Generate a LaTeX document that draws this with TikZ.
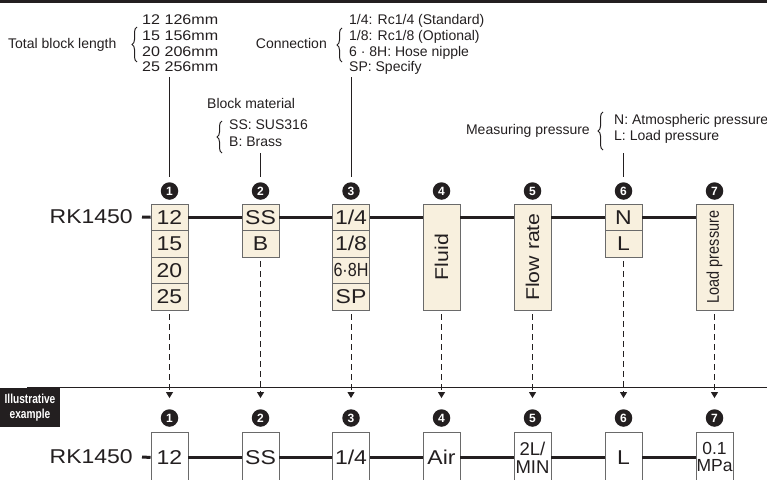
\documentclass[tikz,border=0pt]{standalone}
\usepackage{fontspec}
\setmainfont{Liberation Sans}
\newfontfamily\widef[FakeStretch=1.15]{Liberation Sans}
\newfontfamily\narrowf[FakeStretch=0.85]{Liberation Sans}
\newfontfamily\illf[FakeStretch=0.78]{Liberation Sans Bold}
\usetikzlibrary{decorations.pathreplacing,arrows.meta}
\definecolor{ink}{HTML}{231F20}
\definecolor{cream}{HTML}{F8F0DE}
\definecolor{edge}{HTML}{6A6A6A}
\tikzset{
  cell/.style={draw=edge, line width=0.9pt, fill=cream, minimum width=37pt, minimum height=26.5pt,
    inner sep=0pt, text=ink, font=\widef\fontsize{20}{20}\selectfont},
  tallcell/.style={cell, minimum height=106pt},
  wcell/.style={draw=edge, line width=0.9pt, fill=white, minimum width=37pt, minimum height=50pt,
    inner sep=0pt, anchor=north, text=ink, align=center, font=\widef\fontsize{20}{20}\selectfont},
  num/.style={circle, fill=ink, minimum size=17.5pt, inner sep=0pt, text=white,
    font=\bfseries\fontsize{12}{12}\selectfont},
  ann/.style={anchor=base west, inner sep=0pt, text=ink, font=\fontsize{14}{16}\selectfont},
  annw/.style={ann, font=\widef\fontsize{14}{16}\selectfont},
  mainline/.style={ink, line width=3pt},
  leader/.style={ink, line width=0.9pt, shorten >=5pt},
  dashline/.style={ink, line width=0.9pt, dash pattern=on 6pt off 4pt, shorten <=4pt, shorten >=11pt,
    -{Triangle[width=7pt,length=6pt]}},
  brc/.style={ink, line width=1pt, decorate, decoration={brace, amplitude=5pt}},
  model/.style={anchor=east, inner sep=0pt, text=ink, font=\widef\fontsize{20}{20}\selectfont},
  illbox/.style={fill=ink, text=white, minimum width=60pt, minimum height=39pt, inner sep=0pt,
    align=center, font=\illf\fontsize{13}{15}\selectfont}
}
\begin{document}
\begin{tikzpicture}[x=1pt,y=-1pt]
\useasboundingbox (0,0) rectangle (767,479);
\clip (0,0) rectangle (767,479);
\fill[ink] (0,0) rectangle (767,2.5);

% ---------- annotations ----------
\node[ann] (tbl) at (8,48.5) {Total block length};
\draw[brc] (137,62) -- (137,27);
\node[annw] (v1) at (142,24) {12 126mm};
\node[annw] (v2) at (142,40) {15 156mm};
\node[annw] (v3) at (142,56) {20 206mm};
\node[annw] (v4) at (142,71.5) {25 256mm};

\node[ann] (bm) at (207,108.5) {Block material};
\draw[brc] (222,153) -- (222,121);
\node[ann] (bm1) at (229,129) {SS: SUS316};
\node[ann] (bm2) at (229,146.5) {B: Brass};

\node[ann, anchor=base east] (con) at (327,48.5) {Connection};
\draw[brc] (342,62) -- (342,28);
\node[ann] (co1) at (349,24) {1/4: Rc1/4 (Standard)};
\node[ann] (co2) at (349,40) {1/8: Rc1/8 (Optional)};
\node[ann] (co3) at (349,56) {6 · 8H: Hose nipple};
\node[ann] (co4) at (349,71.5) {SP: Specify};

\node[ann, anchor=base east] (mp) at (590,134) {Measuring pressure};
\draw[brc] (603,150) -- (603,112);
\node[ann] (mp1) at (614,124.3) {N: Atmospheric pressure};
\node[ann] (mp2) at (614,140) {L: Load pressure};

% ---------- top circled numbers ----------
\node[num] (c1) at (169.5,191) {1};
\node[num] (c2) at (260.5,191) {2};
\node[num] (c3) at (351,191) {3};
\node[num] (c4) at (441.5,191) {4};
\node[num] (c5) at (532.5,191) {5};
\node[num] (c6) at (623.5,191) {6};
\node[num] (c7) at (714.5,191) {7};

\coordinate (l1) at (169.5,77);
\coordinate (l2) at (260.5,153);
\coordinate (l3) at (351,77);
\coordinate (l6) at (623.5,153);
\draw[leader] (l1) -- (c1.north);
\draw[leader] (l2) -- (c2.north);
\draw[leader] (l3) -- (c3.north);
\draw[leader] (l6) -- (c6.north);

% ---------- top code row ----------
\node[model] (rk) at (133,217) {RK1450};

\node[cell] (a1) at (169.5,217.25) {12};
\node[cell] (a2) at (169.5,243.75) {15};
\node[cell] (a3) at (169.5,270.25) {20};
\node[cell] (a4) at (169.5,296.75) {25};

\node[cell] (s1) at (260.5,217.25) {SS};
\node[cell] (s2) at (260.5,243.75) {B};

\node[cell] (p1) at (351,217.25) {1/4};
\node[cell] (p2) at (351,243.75) {1/8};
\node[cell, font=\narrowf\fontsize{19}{19}\selectfont] (p3) at (351,270.25) {6·8H};
\node[cell] (p4) at (351,296.75) {SP};

\node[tallcell] (fl) at (441.5,257) {\rotatebox{90}{\fontsize{18.5}{18.5}\selectfont Fluid}};
\node[tallcell] (fr) at (532.5,257) {\rotatebox{90}{\fontsize{18.5}{18.5}\selectfont Flow rate}};

\node[cell] (m1) at (623.5,217.25) {N};
\node[cell] (m2) at (623.5,243.75) {L};

\node[tallcell] (lp) at (714.5,257) {\rotatebox{90}{\narrowf\fontsize{17}{17}\selectfont Load pressure}};

\draw[mainline] ([xshift=9pt]rk.east) -- (a1.west);
\draw[mainline] (a1.east) -- (s1.west);
\draw[mainline] (s1.east) -- (p1.west);
\draw[mainline] (p1.east) -- (fl.west |- p1.east);
\draw[mainline] (fl.east |- p1.east) -- (fr.west |- p1.east);
\draw[mainline] (fr.east |- p1.east) -- (m1.west);
\draw[mainline] (m1.east) -- (lp.west |- m1.east);

% ---------- separator ----------
\draw[ink, line width=1pt] (27,387) -- (767,387);
\node[illbox] (ill) at (30,407.5) {Illustrative\\example};

% ---------- bottom circled numbers ----------
\node[num] (d1) at (169.5,418) {1};
\node[num] (d2) at (260.5,418) {2};
\node[num] (d3) at (351,418) {3};
\node[num] (d4) at (441.5,418) {4};
\node[num] (d5) at (532.5,418) {5};
\node[num] (d6) at (623.5,418) {6};
\node[num] (d7) at (714.5,418) {7};

\draw[dashline] (a4.south) -- (d1.north);
\draw[dashline] (s2.south) -- (d2.north);
\draw[dashline] (p4.south) -- (d3.north);
\draw[dashline] (fl.south) -- (d4.north);
\draw[dashline] (fr.south) -- (d5.north);
\draw[dashline] (m2.south) -- (d6.north);
\draw[dashline] (lp.south) -- (d7.north);

% ---------- bottom example row ----------
\node[model] (rk2) at (133,457) {RK1450};
\node[wcell] (e1) at (169.5,432) {12};
\node[wcell] (e2) at (260.5,432) {SS};
\node[wcell] (e3) at (351,432) {1/4};
\node[wcell] (e4) at (441.5,432) {Air};
\node[wcell, font=\fontsize{18.5}{18}\selectfont] (e5) at (532.5,432) {2L/\\MIN};
\node[wcell] (e6) at (623.5,432) {L};
\node[wcell, font=\fontsize{17.5}{17}\selectfont] (e7) at (714.5,432) {0.1\\MPa};

\draw[mainline] ([xshift=9pt]rk2.east) -- (e1.west);
\draw[mainline] (e1.east) -- (e2.west);
\draw[mainline] (e2.east) -- (e3.west);
\draw[mainline] (e3.east) -- (e4.west);
\draw[mainline] (e4.east) -- (e5.west);
\draw[mainline] (e5.east) -- (e6.west);
\draw[mainline] (e6.east) -- (e7.west);
\end{tikzpicture}
\end{document}
